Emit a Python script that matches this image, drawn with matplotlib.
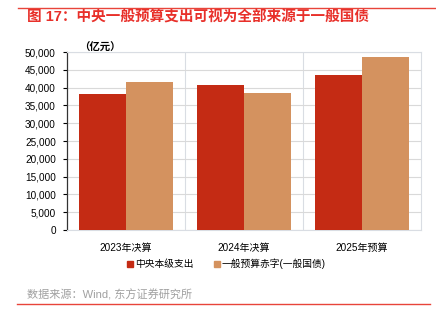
import matplotlib
matplotlib.use("Agg")
import matplotlib.pyplot as plt
import numpy as np
from matplotlib.ticker import FuncFormatter
from matplotlib.lines import Line2D

plt.rcParams['font.family'] = ['Liberation Sans', 'Noto Sans CJK SC', 'DejaVu Sans']

categories = ["2023年决算", "2024年决算", "2025年预算"]
central_exp = [38200, 40700, 43400]
deficit = [41600, 38400, 48600]
series_names = ["中央本级支出", "一般预算赤字(一般国债)"]
yticks = list(range(0, 50001, 5000))

RED = "#C42B14"
ORANGE = "#D4925F"
TITLE_RED = "#E8302A"

fig = plt.figure(figsize=(4.36, 3.22), dpi=100)
ax = fig.add_axes([0.1537, 0.2857, 0.811, 0.5528])

x = np.arange(len(categories))
w = 0.4
ax.bar(x - w/2, central_exp, w, color=RED, label=series_names[0], zorder=3)
ax.bar(x + w/2, deficit, w, color=ORANGE, label=series_names[1], zorder=3)

ax.set_xlim(-0.5, len(categories) - 0.5)
ax.set_ylim(0, 50000)
ax.set_yticks(yticks)
ax.yaxis.set_major_formatter(FuncFormatter(lambda v, p: f"{int(v):,}"))
ax.set_xticks(x)
ax.set_xticklabels(categories, fontsize=7.2)
ax.tick_params(axis='x', length=0, pad=9)
ax.tick_params(axis='y', labelsize=7.2, length=3, width=0.8, direction='out', pad=5)

ax.grid(axis='y', color='#D9D9D9', linewidth=0.8, zorder=0)
for b in [0.5, 1.5]:
    ax.axvline(b, color='#D9DDE3', linewidth=0.8, zorder=0)
for s in ['top', 'right', 'bottom']:
    ax.spines[s].set_color('#D9DDE3')
    ax.spines[s].set_linewidth(0.8)
ax.spines['left'].set_color('#333333')
ax.spines['left'].set_linewidth(0.9)

fig.text(79/436, 1 - 48/322, "（亿元）", fontsize=7.5, fontweight='bold', ha='left', va='center')

handles = [Line2D([0], [0], marker='s', linestyle='', color=RED, markersize=4),
           Line2D([0], [0], marker='s', linestyle='', color=ORANGE, markersize=4)]
fig.legend(handles, series_names, loc='center', bbox_to_anchor=(226/436, 1 - 264/322),
           ncol=2, frameon=False, fontsize=7, handletextpad=0.1, columnspacing=2.0,
           handlelength=0.8)

fig.text(27/436, 1 - 17/322, "图 17：中央一般预算支出可视为全部来源于一般国债",
         fontsize=10.5, fontweight='bold', color=TITLE_RED, ha='left', va='center')
fig.add_artist(Line2D([18/436, 1.0], [1 - 8/322, 1 - 8/322], color='#E8443A', linewidth=1.0))
fig.add_artist(Line2D([17/436, 430/436], [1 - 304/322, 1 - 304/322], color='#E8443A', linewidth=1.0))
fig.text(27/436, 1 - 295/322, "数据来源：Wind, 东方证券研究所", fontsize=8, color='#A0A0A0',
         ha='left', va='center')

fig.savefig("out.png", dpi=100)
